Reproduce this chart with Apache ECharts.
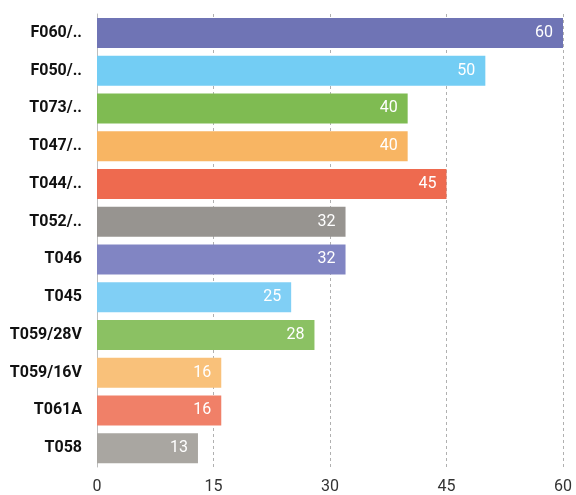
<!DOCTYPE html>
<html>
<head>
<meta charset="utf-8">
<script src="https://cdn.jsdelivr.net/npm/echarts@6/dist/echarts.min.js"></script>
<style>
html,body{margin:0;padding:0;background:#fff;}
#chart{width:576px;height:495px;}
</style>
</head>
<body>
<div id="chart"></div>
<script>
const categories = ['F060/..','F050/..','T073/..','T047/..','T044/..','T052/..','T046','T045','T059/28V','T059/16V','T061A','T058'];
const values = [60,50,40,40,45,32,32,25,28,16,16,13];
const barColors = ['#6f74b5','#73cdf4','#7fbb52','#f8b563','#ee6a4f','#979490','#8185c3','#80cff5','#8bc163','#f9c17a','#f08068','#a9a6a1'];
const xTicks = [0,15,30,45,60];

const chart = echarts.init(document.getElementById('chart'), null, {renderer:'canvas'});
chart.setOption({
  animation:false,
  backgroundColor:'#fff',
  textStyle:{fontFamily:'Roboto'},
  grid:{left:97,right:13,top:14,bottom:28,containLabel:false},
  xAxis:{
    type:'value',
    min:xTicks[0], max:xTicks[xTicks.length-1], interval:15,
    axisLine:{show:false},
    axisTick:{show:false},
    axisLabel:{color:'#333',fontSize:16,fontFamily:'Roboto',margin:12,
      formatter:v=>String(v)},
    splitLine:{show:true,lineStyle:{type:[3,3],color:'#b0b0b0',width:1}}
  },
  yAxis:{
    type:'category',
    inverse:true,
    data:categories,
    axisLine:{show:true,lineStyle:{color:'#bdbdbd',width:1}},
    axisTick:{show:false},
    axisLabel:{color:'#111',fontSize:16,fontWeight:'bold',fontFamily:'Roboto',margin:15}
  },
  series:[{
    type:'bar',
    barWidth:30,
    data:values.map((v,i)=>({value:v,itemStyle:{color:barColors[i]}})),
    label:{show:true,position:'insideRight',color:'#fff',fontSize:16,fontFamily:'Roboto',distance:10}
  }]
});
</script>
</body>
</html>
